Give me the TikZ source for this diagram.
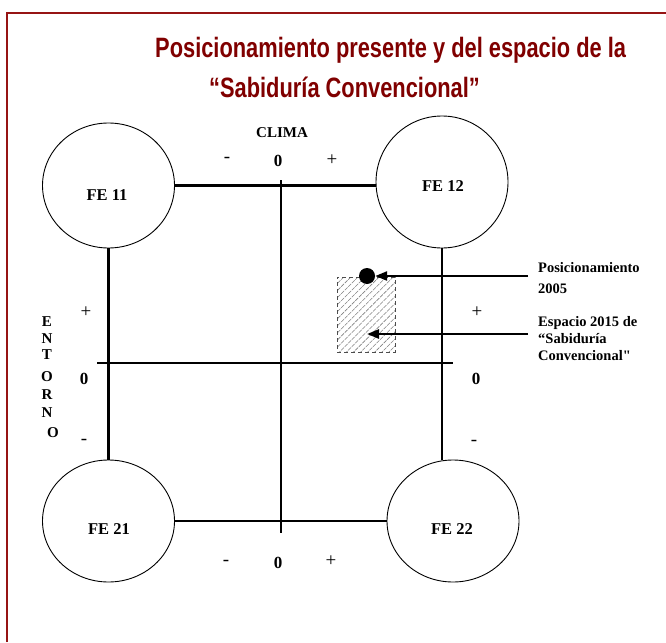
\documentclass[tikz,border=0pt]{standalone}
\usepackage{fontspec}
\usepackage{graphicx}
\setmainfont{Liberation Serif}
\newfontfamily\titlefont{Liberation Sans}
\newfontfamily\plainserif[Ligatures=TeXOff]{Liberation Serif}
\usetikzlibrary{shapes.geometric,arrows.meta,patterns.meta}
\definecolor{framered}{RGB}{150,20,20}
\definecolor{titlered}{RGB}{128,0,0}
\begin{document}
\begin{tikzpicture}[x=1pt,y=-1pt,
  fe/.style={ellipse, draw, line width=0.9pt, minimum width=132pt, minimum height=124pt, inner sep=0pt},
  axis/.style={line width=2.6pt},
  lbl/.style={font=\bfseries\fontsize{15}{15}\selectfont, inner sep=0pt, anchor=base},
  zero/.style={font=\bfseries\fontsize{17}{17}\selectfont, inner sep=0pt, anchor=base},
  felbl/.style={font=\bfseries\fontsize{16.5}{16.5}\selectfont, inner sep=0pt, anchor=base},
  sgn/.style={font=\fontsize{19}{19}\selectfont, inner sep=0pt},
  note/.style={font=\bfseries\fontsize{14.5}{17}\selectfont, inner sep=0pt, anchor=base west},
  ttl/.style={font=\titlefont\bfseries\fontsize{28}{28}\selectfont, text=titlered, inner sep=0pt, anchor=base west},
  arr/.style={line width=2.4pt, -{Triangle[length=12pt,width=9pt]}}]
\useasboundingbox (0,0) rectangle (666,642);
\draw[framered, line width=2pt] (7,642) -- (7,13) -- (666,13);
% title
\node[ttl] (t1) at (155,58) {\scalebox{0.78}[1]{Posicionamiento presente y del espacio de la}};
\node[ttl] (t2) at (209,97) {\scalebox{0.78}[1]{“Sabiduría Convencional”}};
% circles
\node[fe, minimum height=125pt] (fe11) at (108.5,185.5) {};
\node[fe, minimum height=132pt] (fe12) at (442,182) {};
\node[fe, minimum height=122pt] (fe21) at (108.5,521) {};
\node[fe, minimum height=122pt] (fe22) at (453,521) {};
\node[felbl] (l11) at (107,200) {FE 11};
\node[felbl] (l12) at (443,191) {FE 12};
\node[felbl] (l21) at (109,534) {FE 21};
\node[felbl] (l22) at (452,534) {FE 22};
% frame lines
\draw[axis] (fe11.east) -- (fe11.east -| fe12.west);
\draw[axis] (fe21.east) -- (fe22.west);
\draw[axis] (fe11.south) -- (fe21.north);
\draw[axis] (fe12.south) -- (fe12.south |- fe22.north);
% central cross
\coordinate (ctop) at (281,180);
\coordinate (cbot) at (281,533);
\coordinate (cleft) at (97,363);
\coordinate (cright) at (453,363);
\draw[axis] (ctop) -- (cbot);
\draw[axis] (cleft) -- (cright);
% axis labels
\node[lbl] (clima) at (282,137) {CLIMA};
\node[sgn] (tm) at (227,160) {-};
\node[zero] (t0) at (278,166) {0};
\node[sgn] (tp) at (332,160) {+};
\node[sgn] (bm) at (226,563) {-};
\node[zero] (b0) at (278,568) {0};
\node[sgn] (bp) at (331,561) {+};
\node[sgn] (lp) at (86,312) {+};
\node[zero] (l0) at (84,384) {0};
\node[sgn] (lm) at (84,442) {-};
\node[sgn] (rp) at (477,312) {+};
\node[zero] (r0) at (476,384) {0};
\node[sgn] (rm) at (474,443) {-};
% ENTORNO
\node[lbl] (e1) at (47,326) {E};
\node[lbl] (e2) at (47,343) {N};
\node[lbl] (e3) at (47,359) {T};
\node[lbl] (e4) at (47,381) {O};
\node[lbl] (e5) at (47,399) {R};
\node[lbl] (e6) at (47,417) {N};
\node[lbl] (e7) at (53,437) {O};
% hatched space and position dot
\node[draw=black!70, dash pattern=on 4pt off 3pt, line width=0.8pt, pattern={Lines[angle=45,distance=5pt,line width=0.6pt]}, pattern color=black!50, minimum width=58pt, minimum height=75pt, inner sep=0pt] (esp) at (366,314.5) {};
\node[circle, fill=black, minimum size=16pt, inner sep=0pt] (dot) at (367,276) {};
\coordinate (a1) at (528,276);
\coordinate (a2) at (528,334);
\coordinate (a2end) at (367,334);
\draw[arr] (a1) -- (dot.east);
\draw[arr] (a2) -- (a2end);
% notes
\node[note] (n1) at (538,272) {Posicionamiento};
\node[note] (n2) at (538,293) {2005};
\node[note] (n3) at (538,326) {Espacio 2015 de};
\node[note] (n4) at (538,343) {“Sabiduría};
\node[note] (n5) at (538,360) {\plainserif Convencional"};
\end{tikzpicture}
\end{document}
